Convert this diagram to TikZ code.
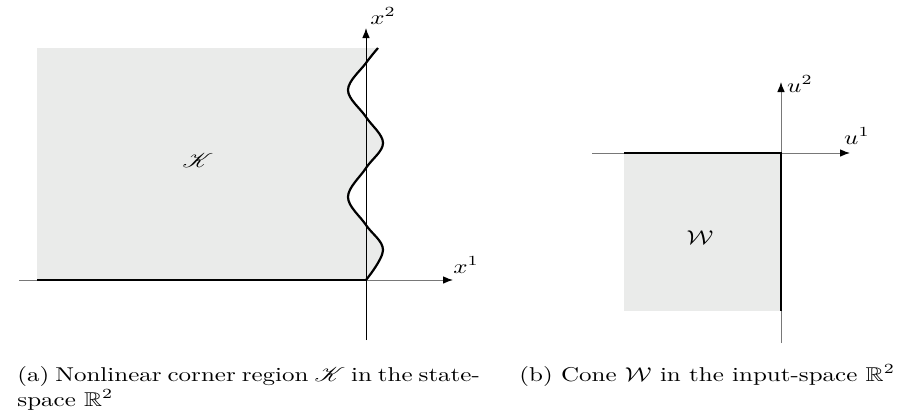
\documentclass[tikz,border=0pt]{standalone}
\usepackage{amssymb,mathrsfs}
\usetikzlibrary{arrows.meta}
\definecolor{regfill}{RGB}{234,235,234}
\definecolor{axgray}{RGB}{120,120,120}
\newcommand{\wide}[1]{\scalebox{1.25}[1]{#1}}
\begin{document}
\begin{tikzpicture}[x=0.5pt,y=-0.5pt,
  axisline/.style={line width=0.5pt,-{Latex[length=5pt,width=3.8pt,color=black]}},
  boundary/.style={line width=1.1pt,black},
  region/.style={fill=regfill},
  lbl/.style={inner sep=0pt}]
\useasboundingbox (0,0) rectangle (916,414);
% ---------- left plot ----------
\coordinate (O1) at (366,280);
\coordinate (X1s) at (19,280);
\coordinate (X1e) at (453,280);
\coordinate (X2s) at (366,340);
\coordinate (X2e) at (366,28);
\coordinate (KL) at (37,280);
\fill[region] (KL) -- plot[smooth,tension=0.6] coordinates {(366,280) (383,250) (366,225) (348,197) (366,168) (383,143) (366,117) (348,90) (366,63) (378,48)} -- (37,48) -- cycle;
\draw[axisline,axgray] (X1s) -- (X1e);
\draw[axisline,black] (X2s) -- (X2e);
\draw[boundary] (KL) -- (O1);
\draw[boundary] plot[smooth,tension=0.6] coordinates {(366,280) (383,250) (366,225) (348,197) (366,168) (383,143) (366,117) (348,90) (366,63) (378,48)};
\node[lbl] (lx2) at (383,16) {\wide{$x^2$}};
\node[lbl] (lx1) at (466,265) {\wide{$x^1$}};
\node[lbl] (lK) at (198,160) {\wide{$\mathscr{K}$}};
% ---------- right plot ----------
\coordinate (O2) at (781,153);
\coordinate (U1s) at (592,153);
\coordinate (U1e) at (850,153);
\coordinate (U2s) at (781,343);
\coordinate (U2e) at (781,82);
\coordinate (WL) at (624,153);
\coordinate (WB) at (781,311);
\fill[region] (WL) rectangle (WB);
\draw[axisline,axgray] (U1s) -- (U1e);
\draw[axisline,axgray] (U2s) -- (U2e);
\draw[boundary] (WL) -- (O2) -- (WB);
\node[lbl] (lu2) at (800,84) {\wide{$u^2$}};
\node[lbl] (lu1) at (857,136) {\wide{$u^1$}};
\node[lbl] (lW) at (700,238) {\wide{$\mathcal{W}$}};
% ---------- captions ----------
\node[lbl,anchor=base west] (capa) at (17,381) {\wide{\parbox[t]{185pt}{\setlength{\baselineskip}{12.5pt}(a) Nonlinear corner region $\mathscr{K}$ in the state-space $\mathbb{R}^2$}}};
\node[lbl,anchor=base west] (capb) at (519,381) {\wide{(b) Cone $\mathcal{W}$ in the input-space $\mathbb{R}^2$}};
\end{tikzpicture}
\end{document}
